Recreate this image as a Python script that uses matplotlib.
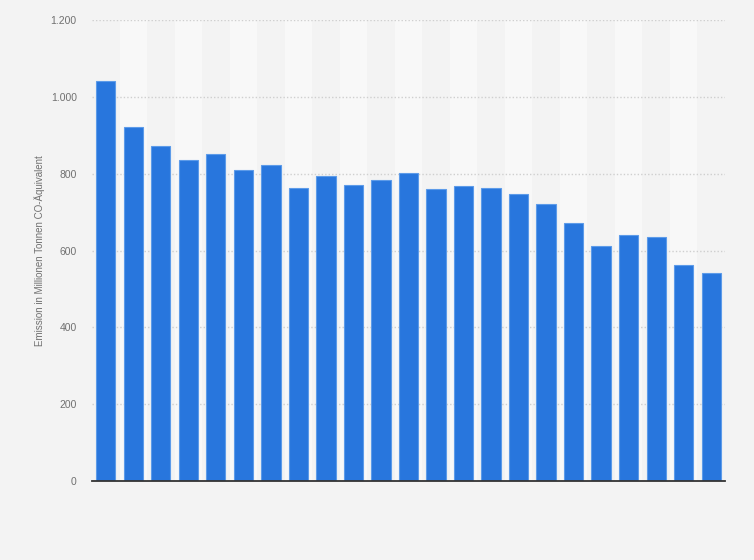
import matplotlib.pyplot as plt
from matplotlib.ticker import FuncFormatter

# emissions per year, million tonnes CO2 equivalent (years not shown on the chart)
positions = list(range(23))
values = [1042, 922, 873, 836, 851, 810, 823, 763, 794, 771, 783, 802,
          760, 768, 763, 748, 721, 671, 612, 640, 635, 562, 541]
yticks = [0, 200, 400, 600, 800, 1000, 1200]

plt.rcParams['font.family'] = ['Liberation Sans', 'DejaVu Sans']

fig = plt.figure(figsize=(7.54, 5.6), dpi=100)
fig.patch.set_facecolor('#f3f3f3')
ax = fig.add_axes([0.122, 0.141, 0.8395, 0.823])
ax.set_facecolor('#f3f3f3')

# alternating column bands
for i in positions:
    if i % 2 == 1:
        ax.axvspan(i - 0.5, i + 0.5, color='#f8f8f8', zorder=0, lw=0)

ax.bar(positions, values, width=0.7, color='#2876dd',
       edgecolor='#5d9be9', linewidth=0.8, zorder=3)

ax.set_xlim(-0.5, 22.5)
ax.set_ylim(0, 1200)
ax.set_yticks(yticks)
ax.yaxis.set_major_formatter(FuncFormatter(lambda v, p: f'{int(v):,}'.replace(',', '.')))
ax.set_xticks([])
ax.grid(axis='y', color='#cfcfcf', linestyle=(0, (1, 1.5)), linewidth=1.0, zorder=1)
ax.tick_params(axis='y', length=0, labelsize=7.5, labelcolor='#707070', pad=11)

for s in ['top', 'right', 'left']:
    ax.spines[s].set_visible(False)
ax.spines['bottom'].set_color('#333333')
ax.spines['bottom'].set_linewidth(1.3)
ax.spines['bottom'].set_zorder(4)

ax.set_ylabel('Emission in Millionen Tonnen CO-Äquivalent', fontsize=7,
              color='#707070', labelpad=4)

fig.savefig('out.png', dpi=100, facecolor=fig.get_facecolor())
